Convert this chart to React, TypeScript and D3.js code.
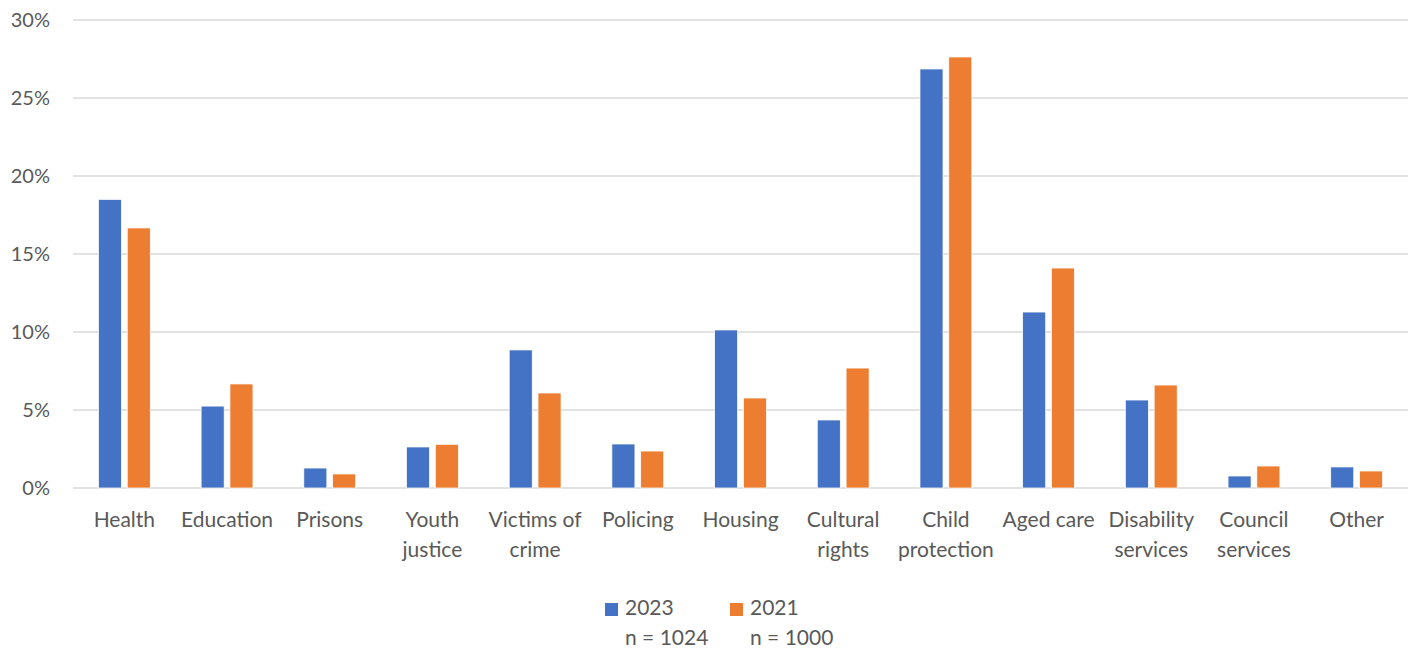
import React from "react";
import * as d3 from "d3";

const categories: string[][] = [
  ["Health"], ["Education"], ["Prisons"], ["Youth", "justice"], ["Victims of", "crime"],
  ["Policing"], ["Housing"], ["Cultural", "rights"], ["Child", "protection"], ["Aged care"],
  ["Disability", "services"], ["Council", "services"], ["Other"],
];
const series2023: number[] = [18.5, 5.25, 1.28, 2.63, 8.85, 2.82, 10.13, 4.36, 26.86, 11.28, 5.64, 0.77, 1.35];
const series2021: number[] = [16.67, 6.67, 0.9, 2.8, 6.09, 2.37, 5.77, 7.69, 27.63, 14.1, 6.6, 1.41, 1.09];
const seriesNames = ["2023", "2021"];
const seriesN = ["n = 1024", "n = 1000"];
const colors = ["#4472C4", "#ED7D31"];
const yTicks = [0, 5, 10, 15, 20, 25, 30];

export default function App() {
  const W = 1416, H = 652;
  const left = 73, right = 1408, top = 20, bottom = 488;
  const font = "Lato, 'Open Sans', sans-serif";
  const x0 = d3.scaleBand<number>().domain(d3.range(categories.length)).range([left, right]).padding(0);
  const groupW = x0.bandwidth() * 0.505;
  const x1 = d3.scaleBand<number>().domain([0, 1]).range([0, groupW]).paddingInner(0.2);
  const y = d3.scaleLinear().domain([0, 30]).range([bottom, top]);
  const data = [series2023, series2021];

  return (
    <svg width={W} height={H} style={{ position: "absolute", left: 0, top: 0 }} fontFamily={font}>
      <rect width={W} height={H} fill="#fff" />
      {yTicks.map((t) => (
        <g key={t}>
          <line x1={left} x2={right} y1={y(t)} y2={y(t)} stroke="#D9D9D9" strokeWidth={1.5} />
          <text x={50} y={y(t)} dy="0.35em" textAnchor="end" fontSize={20} fill="#595959">{t}%</text>
        </g>
      ))}
      {categories.map((c, i) => {
        const cx = x0(i)! + x0.bandwidth() / 2;
        const gx = cx - groupW / 2;
        return (
          <g key={i}>
            {data.map((s, j) => (
              <rect key={j} x={gx + x1(j)!} width={x1.bandwidth()} y={y(s[i])} height={y(0) - y(s[i])}
                fill={colors[j]} stroke="#fff" strokeWidth={0.75} />
            ))}
            {c.map((line, k) => (
              <text key={k} x={cx} y={527 + k * 30} textAnchor="middle" fontSize={21} fill="#595959">{line}</text>
            ))}
          </g>
        );
      })}
      {seriesNames.map((n, j) => {
        const lx = 605 + j * 125;
        return (
          <g key={n}>
            <rect x={lx} y={603} width={13} height={13} fill={colors[j]} />
            <text x={lx + 20} y={615} fontSize={21} fill="#595959">{n}</text>
            <text x={lx + 20} y={645} fontSize={21} fill="#595959">{seriesN[j]}</text>
          </g>
        );
      })}
    </svg>
  );
}
